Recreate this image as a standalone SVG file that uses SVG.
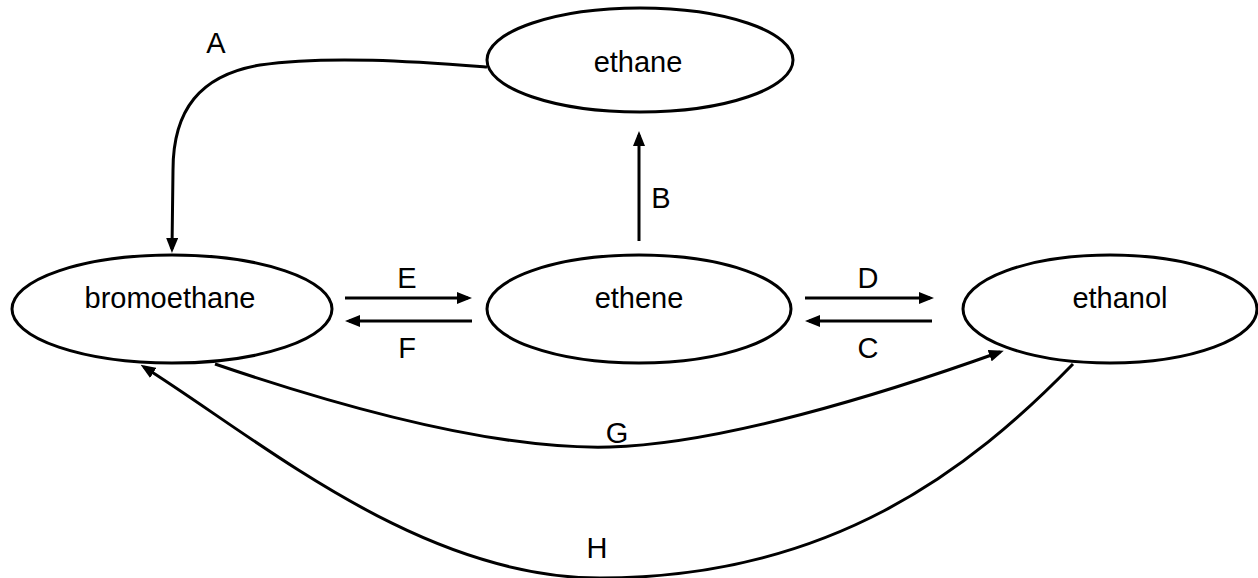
<svg xmlns="http://www.w3.org/2000/svg" width="1258" height="578" viewBox="0 0 1258 578">
<style>
.node ellipse{fill:#fff;stroke:#000;stroke-width:3}
text{font-family:"Liberation Sans",Arial,sans-serif;font-size:29px;fill:#000;text-anchor:middle}
.edge{fill:none;stroke:#000;stroke-width:3}
</style>
<defs>
<marker id="ah" markerUnits="userSpaceOnUse" markerWidth="15" markerHeight="12" refX="11" refY="6" orient="auto">
<path d="M0,0 L15,6 L0,12 z" fill="#000"/>
</marker>
</defs>
<rect width="1258" height="578" fill="#fff"/>
<g id="ethane" class="node"><ellipse cx="640" cy="60" rx="153" ry="52"/><text x="638" y="72">ethane</text></g>
<g id="bromoethane" class="node"><ellipse cx="172" cy="309" rx="160" ry="54"/><text x="170" y="308">bromoethane</text></g>
<g id="ethene" class="node"><ellipse cx="639" cy="309" rx="152" ry="54"/><text x="639" y="308">ethene</text></g>
<g id="ethanol" class="node"><ellipse cx="1110" cy="309" rx="147" ry="54"/><text x="1120" y="308">ethanol</text></g>
<g id="connectors">
<path class="edge" marker-end="url(#ah)" d="M487,67 C420,62 330,55 260,65 C200,75 173,110 173,170 L172,249"/>
<path class="edge" marker-end="url(#ah)" d="M639,241 L639,135"/>
<path class="edge" marker-end="url(#ah)" d="M345,298 L468,298"/>
<path class="edge" marker-end="url(#ah)" d="M472,321 L349,321"/>
<path class="edge" marker-end="url(#ah)" d="M805,298 L930,298"/>
<path class="edge" marker-end="url(#ah)" d="M932,321 L809,321"/>
<path class="edge" marker-end="url(#ah)" d="M215,364 C350,410 500,450 610,447 C720,444 880,395 1000,352"/>
<path class="edge" marker-end="url(#ah)" d="M1073,364 C970,470 830,578 600,578 C420,578 260,440 144,367"/>
</g>
<g id="labels">
<text x="216" y="53">A</text>
<text x="661" y="208">B</text>
<text x="868" y="358">C</text>
<text x="868" y="288">D</text>
<text x="407" y="288">E</text>
<text x="407" y="358">F</text>
<text x="617" y="443">G</text>
<text x="597" y="558">H</text>
</g>
</svg>
